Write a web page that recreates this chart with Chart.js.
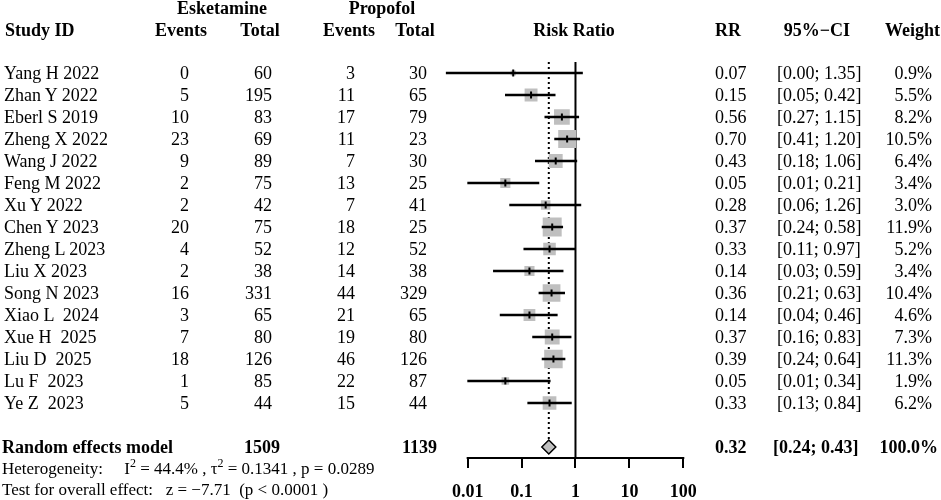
<!DOCTYPE html>
<html>
<head>
<meta charset="utf-8">
<script src="https://cdn.jsdelivr.net/npm/chart.js@4/dist/chart.umd.min.js"></script>
<style>
  body { margin: 0; background: #fff; }
  #wrap { position: relative; width: 941px; height: 500px; overflow: hidden;
          font-family: "Liberation Serif", "Times New Roman", serif; font-size: 18px; color: #000; }
  #wrap canvas { position: absolute; left: 0; top: 0; }
  .t { position: absolute; white-space: pre; line-height: 18px; }
  .b { font-weight: bold; }
  .s { font-size: 17px; }
  .t sup { font-size: 12px; line-height: 0; vertical-align: baseline; position: relative; top: -7px; }
</style>
</head>
<body>
<div id="wrap"><canvas id="forest" width="941" height="500"></canvas></div>
<script>
(function(){
  var studies = ['Yang H 2022', 'Zhan Y 2022', 'Eberl S 2019', 'Zheng X 2022', 'Wang J 2022',
                 'Feng M 2022', 'Xu Y 2022', 'Chen Y 2023', 'Zheng L 2023', 'Liu X 2023',
                 'Song N 2023', 'Xiao L  2024', 'Xue H  2025', 'Liu D  2025', 'Lu F  2023', 'Ye Z  2023'];
  var eskEvents = [0, 5, 10, 23, 9, 2, 2, 20, 4, 2, 16, 3, 7, 18, 1, 5];
  var eskTotal  = [60, 195, 83, 69, 89, 75, 42, 75, 52, 38, 331, 65, 80, 126, 85, 44];
  var proEvents = [3, 11, 17, 11, 7, 13, 7, 18, 12, 14, 44, 21, 19, 46, 22, 15];
  var proTotal  = [30, 65, 79, 23, 30, 25, 41, 25, 52, 38, 329, 65, 80, 126, 87, 44];
  var rr     = [0.07, 0.15, 0.56, 0.70, 0.43, 0.05, 0.28, 0.37, 0.33, 0.14, 0.36, 0.14, 0.37, 0.39, 0.05, 0.33];
  var ciLow  = [0.004, 0.05, 0.27, 0.41, 0.18, 0.01, 0.06, 0.24, 0.11, 0.03, 0.21, 0.04, 0.16, 0.24, 0.01, 0.13];
  var ciHigh = [1.35, 0.42, 1.15, 1.20, 1.06, 0.21, 1.26, 0.58, 0.97, 0.59, 0.63, 0.46, 0.83, 0.64, 0.34, 0.84];
  var weight = [0.9, 5.5, 8.2, 10.5, 6.4, 3.4, 3.0, 11.9, 5.2, 3.4, 10.4, 4.6, 7.3, 11.3, 1.9, 6.2];

  var pooledLabel = 'Random effects model';
  var pooled = [0.32, 0.24, 0.43];     // RR, lower, upper
  var pooledTotals = [1509, 1139];
  var heterogeneity = 'Heterogeneity:     I<sup>2</sup> = 44.4% , \u03c4<sup>2</sup> = 0.1341 , p = 0.0289';
  var overallTest = 'Test for overall effect:   z = \u22127.71  (p < 0.0001 )';

  var tickValues = [0.01, 0.1, 1, 10, 100];
  var tickLabels = ['0.01', '0.1', '1', '10', '100'];

  var rowLabels = studies.concat([' ', pooledLabel]);
  var serif = 'Liberation Serif';
  var grey = '#bfbfbf';

  // square area follows the weight
  var squareRadius = weight.map(function(w){ return 5.5 * Math.sqrt(w) / (2 * Math.SQRT1_2); });

  var refLines = {
    id: 'refLines',
    beforeDatasetsDraw: function(chart){
      var ctx = chart.ctx, a = chart.chartArea, x = chart.scales.x, y = chart.scales.y;
      ctx.save();
      ctx.strokeStyle = '#000';
      ctx.lineWidth = 2;
      // line of no effect
      var x1 = x.getPixelForValue(1);
      ctx.beginPath(); ctx.moveTo(x1, a.top); ctx.lineTo(x1, a.bottom); ctx.stroke();
      // axis only spans the labelled ticks
      ctx.beginPath();
      ctx.moveTo(x.getPixelForValue(tickValues[0]) - 1, a.bottom);
      ctx.lineTo(x.getPixelForValue(tickValues[tickValues.length - 1]) + 1, a.bottom);
      ctx.stroke();
      // pooled estimate
      var xp = x.getPixelForValue(pooled[0]);
      ctx.setLineDash([2, 3]);
      ctx.beginPath();
      ctx.moveTo(xp, a.top);
      ctx.lineTo(xp, y.getPixelForValue(rowLabels.length - 1) - 7);
      ctx.stroke();
      ctx.restore();
    }
  };

  var chart = new Chart(document.getElementById('forest'), {
    type: 'bar',
    data: {
      labels: rowLabels,
      datasets: [
        {
          type: 'scatter', order: 3,
          data: rr.map(function(v, i){ return {x: v, y: studies[i]}; }),
          pointStyle: 'rect', pointRadius: squareRadius,
          backgroundColor: grey, borderWidth: 0
        },
        {
          order: 2,
          data: ciLow.map(function(lo, i){ return [lo, ciHigh[i]]; }),
          backgroundColor: '#000', borderWidth: 0, barThickness: 2
        },
        {
          type: 'scatter', order: 1,
          data: rr.map(function(v, i){ return {x: v, y: studies[i]}; }),
          pointStyle: 'line', rotation: 90, pointRadius: 3.5,
          borderColor: '#000', borderWidth: 2
        },
        {
          type: 'scatter', order: 0,
          data: [{x: pooled[0], y: pooledLabel}],
          pointStyle: 'rectRot', pointRadius: 7,
          backgroundColor: grey, borderColor: '#000', borderWidth: 1.5
        }
      ]
    },
    options: {
      indexAxis: 'y',
      responsive: false,
      animation: false,
      events: [],
      layout: { padding: { left: 440, right: 257.7, top: 62, bottom: 0 } },
      plugins: { legend: { display: false }, tooltip: { enabled: false } },
      scales: {
        y: { type: 'category', display: false, offset: true },
        x: {
          type: 'logarithmic',
          min: Math.pow(10, -2.513), max: 100,
          afterBuildTicks: function(s){ s.ticks = tickValues.map(function(v){ return {value: v}; }); },
          afterFit: function(s){ s.height = 42; },
          border: { display: false },
          grid: { drawOnChartArea: false, drawTicks: true, tickLength: 10, color: '#000', lineWidth: 2 },
          ticks: {
            padding: 14, color: '#000', maxRotation: 0, autoSkip: false,
            font: { family: serif, size: 18, weight: 'bold' },
            callback: function(v, i){ return tickLabels[i]; }
          }
        }
      }
    },
    plugins: [refLines]
  });

  // table text as real DOM text, rows placed with the chart's y scale
  var wrap = document.getElementById('wrap');
  function put(html, x, y, align, cls){
    var el = document.createElement('div');
    el.className = 't' + (cls ? ' ' + cls : '');
    el.innerHTML = html;
    el.style.left = x + 'px';
    el.style.top = y + 'px';
    var dx = align === 'right' ? '-100%' : (align === 'center' ? '-50%' : '0');
    el.style.transform = 'translate(' + dx + ',-50%)';
    wrap.appendChild(el);
  }
  function fmt2(v){ return v.toFixed(2); }

  // headers
  put('Esketamine', 222, 8, 'center', 'b');
  put('Propofol', 382, 8, 'center', 'b');
  put('Study ID', 5, 30, 'left', 'b');
  put('Events', 181, 30, 'center', 'b');
  put('Total', 260, 30, 'center', 'b');
  put('Events', 349, 30, 'center', 'b');
  put('Total', 415, 30, 'center', 'b');
  put('Risk Ratio', 574, 30, 'center', 'b');
  put('RR', 715, 30, 'left', 'b');
  put('95%\u2212CI', 817, 30, 'center', 'b');
  put('Weight', 940, 30, 'right', 'b');

  var yS = chart.scales.y;
  studies.forEach(function(name, i){
    var y = yS.getPixelForValue(i);
    put(name, 4, y, 'left');
    put(String(eskEvents[i]), 189, y, 'right');
    put(String(eskTotal[i]), 272, y, 'right');
    put(String(proEvents[i]), 355, y, 'right');
    put(String(proTotal[i]), 427, y, 'right');
    put(fmt2(rr[i]), 715, y, 'left');
    put('[' + fmt2(ciLow[i]) + '; ' + fmt2(ciHigh[i]) + ']', 777, y, 'left');
    put(weight[i].toFixed(1) + '%', 932, y, 'right');
  });

  var yp = yS.getPixelForValue(rowLabels.length - 1);
  put(pooledLabel, 2, yp, 'left', 'b');
  put(String(pooledTotals[0]), 280, yp, 'right', 'b');
  put(String(pooledTotals[1]), 437, yp, 'right', 'b');
  put(fmt2(pooled[0]), 715, yp, 'left', 'b');
  put('[' + fmt2(pooled[1]) + '; ' + fmt2(pooled[2]) + ']', 773, yp, 'left', 'b');
  put('100.0%', 938, yp, 'right', 'b');

  put(heterogeneity, 2, 469, 'left', 's');
  put(overallTest, 2, 490, 'left', 's');
})();
</script>
</body>
</html>
